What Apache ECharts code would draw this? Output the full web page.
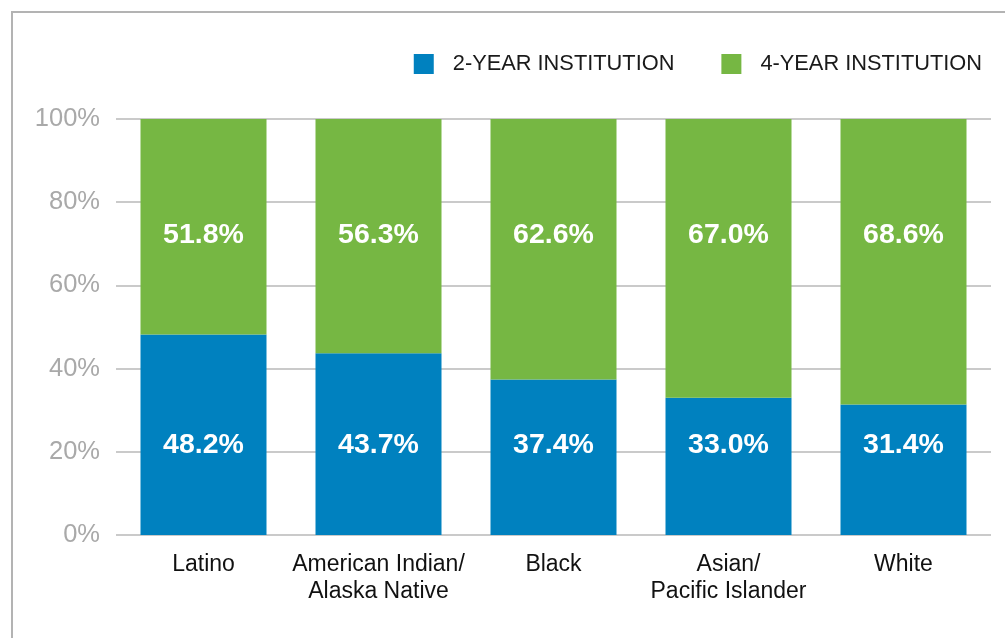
<!DOCTYPE html>
<html>
<head>
<meta charset="utf-8">
<script src="https://cdn.jsdelivr.net/npm/echarts@6/dist/echarts.min.js"></script>
<style>
  html, body { margin: 0; padding: 0; background: #fff; }
  #chart { width: 1005px; height: 638px; }
</style>
</head>
<body>
<div id="chart"></div>
<script>
var categories = ['Latino', 'American Indian/\nAlaska Native', 'Black', 'Asian/\nPacific Islander', 'White']
var twoYear = [48.2, 43.7, 37.4, 33.0, 31.4]
var fourYear = [51.8, 56.3, 62.6, 67.0, 68.6]

var font = '"Liberation Sans", Arial, sans-serif'
var chart = echarts.init(document.getElementById('chart'))

function pct(p) {
  return p.value.toFixed(1) + '%'
}

chart.setOption({
  animation: false,
  textStyle: { fontFamily: font },
  graphic: [
    {
      // frame around the chart
      type: 'rect',
      shape: { x: 12, y: 12, width: 1100, height: 700 },
      style: { fill: 'none', stroke: '#b3b3b3', lineWidth: 2 }
    }
  ],
  legend: {
    top: 48,
    right: 18,
    itemWidth: 20,
    itemHeight: 20,
    itemGap: 47,
    icon: 'rect',
    textStyle: { fontSize: 21.8, color: '#1a1a1a', padding: [0, 0, 0, 14] },
    data: ['2-YEAR INSTITUTION', '4-YEAR INSTITUTION']
  },
  grid: {
    left: 116,
    right: 14,
    top: 119,
    bottom: 103
  },
  xAxis: {
    type: 'category',
    data: categories,
    axisTick: { show: false },
    axisLine: { show: false },
    axisLabel: { interval: 0, fontSize: 23, color: '#111', margin: 16, lineHeight: 27 }
  },
  yAxis: {
    type: 'value',
    min: 0,
    max: 100,
    interval: 20,
    axisLabel: { formatter: '{value}%', fontSize: 25.5, color: '#a9a9a9', margin: 16, padding: [5, 0, 0, 0] },
    axisLine: { show: false },
    axisTick: { show: false },
    splitLine: { lineStyle: { color: '#b8b8b8', width: 1.5 } }
  },
  series: [
    {
      name: '2-YEAR INSTITUTION',
      type: 'bar',
      stack: 'total',
      barWidth: '72%',
      data: twoYear,
      itemStyle: { color: '#0081bf' },
      label: {
        show: true,
        position: 'insideBottom',
        distance: 75,
        formatter: pct,
        color: '#fff',
        fontSize: 28.5,
        fontWeight: 'bold'
      }
    },
    {
      name: '4-YEAR INSTITUTION',
      type: 'bar',
      stack: 'total',
      barWidth: '72%',
      data: fourYear,
      itemStyle: { color: '#76b743' },
      label: {
        show: true,
        position: 'insideTop',
        distance: 102,
        formatter: pct,
        color: '#fff',
        fontSize: 28.5,
        fontWeight: 'bold'
      }
    }
  ]
})
</script>
</body>
</html>
